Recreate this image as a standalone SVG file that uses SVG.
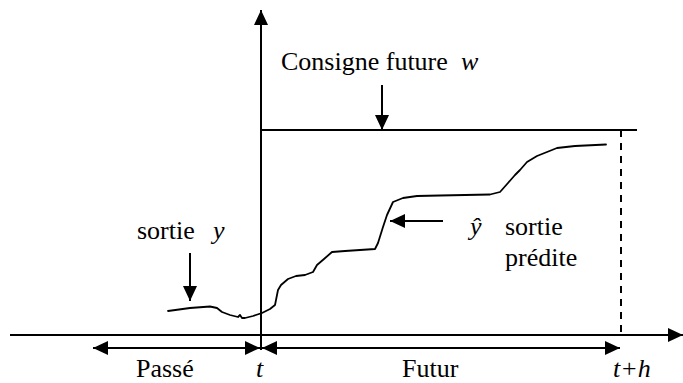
<svg xmlns="http://www.w3.org/2000/svg" width="683" height="383" viewBox="0 0 683 383">
<style>
.ln{stroke:#000;stroke-width:2;fill:none}
.cv{stroke:#000;stroke-width:1.8;fill:none;stroke-linejoin:round;stroke-linecap:round}
.it{font-style:italic}
</style>
<defs>
<marker id="ah" markerUnits="userSpaceOnUse" markerWidth="16" markerHeight="15" refX="15" refY="7" orient="auto-start-reverse" viewBox="0 0 16 15">
<path d="M0,0 L15,7 L0,14 z" fill="#000"/>
</marker>
</defs>
<rect width="683" height="383" fill="#fff"/>
<g id="connectors">
<line id="axis-x" class="ln" x1="10" y1="335" x2="683" y2="335" marker-end="url(#ah)"/>
<line id="axis-y" class="ln" x1="261" y1="350" x2="261" y2="10" marker-end="url(#ah)"/>
<line id="consigne-line" class="ln" x1="261" y1="130" x2="637" y2="130"/>
<line id="horizon" class="ln" x1="621" y1="130" x2="621" y2="335" stroke-dasharray="7,6"/>
<line id="arrow-consigne" class="ln" x1="382" y1="85" x2="382" y2="130" marker-end="url(#ah)"/>
<line id="arrow-sortie" class="ln" x1="190" y1="253" x2="190" y2="301" marker-end="url(#ah)"/>
<line id="arrow-predite" class="ln" x1="443" y1="221" x2="390" y2="221" marker-end="url(#ah)"/>
<line id="arrow-passe" class="ln" x1="93" y1="348" x2="260" y2="348" marker-start="url(#ah)" marker-end="url(#ah)"/>
<line id="arrow-futur" class="ln" x1="262" y1="348" x2="620" y2="348" marker-start="url(#ah)" marker-end="url(#ah)"/>
<polyline id="curve" class="cv" points="168,311 190,308 210,306.5 217,308 222,312 230,315 238,317 240,315 242,318 245,318 253,316 262,313 270,309 275,305 278,290 281,285 288,279 296,276 305,275 313,272 317,265 324,259 332,252 345,251 375,249 378,243 383,227 387,215 393,202 403,198 417,196 440,195.5 490,194.5 500,192 508,183 515,175 520,170 527,162 537,156 547,152 557,148 575,146 606,144.5"/>
</g>
<g font-family="Liberation Serif, Times New Roman, serif" font-size="26" fill="#000">
<g id="label-consigne"><text x="281" y="70">Consigne future <tspan class="it" x="461">w</tspan></text></g>
<g id="label-sortie"><text x="137" y="239">sortie</text><text class="it" x="213" y="239">y</text></g>
<g id="label-predite"><text class="it" x="470" y="235">ŷ</text><text x="505" y="235">sortie</text><text x="505" y="266">prédite</text></g>
<g id="label-passe"><text x="136" y="377">Passé</text></g>
<g id="label-t"><text class="it" x="256" y="377">t</text></g>
<g id="label-futur"><text x="402" y="377">Futur</text></g>
<g id="label-th"><text class="it" x="613" y="377">t+h</text></g>
</g>
</svg>
